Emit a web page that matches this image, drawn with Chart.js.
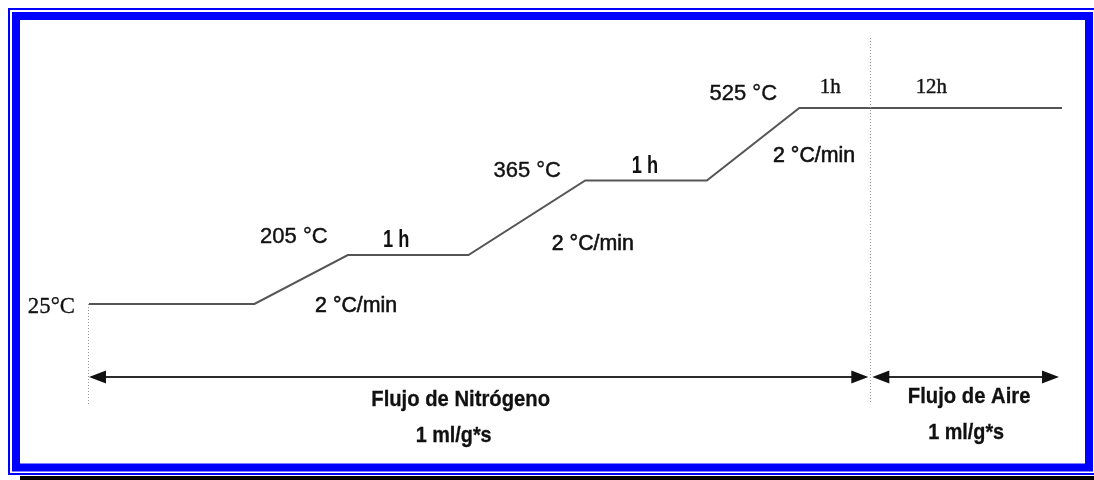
<!DOCTYPE html>
<html>
<head>
<meta charset="utf-8">
<script src="https://cdn.jsdelivr.net/npm/chart.js@4"></script>
<style>
  body { margin: 0; background: #fff; }
  #wrap { width: 1094px; height: 480px; }
</style>
</head>
<body>
<div id="wrap"><canvas id="perfil" width="1094" height="480"></canvas></div>
<script>
// perfil de calcinacion (esquema, unidades arbitrarias)
const tiempos = [0, 17, 26.6, 39, 51, 63.5, 73, 100];
const niveles = [0, 0, 25, 25, 63, 63, 100, 100];
const cambioGas = 80.3; // paso de nitrogeno a aire

const temperaturas = ['25°C', '205 °C', '365 °C', '525 °C'];
const rampa = '2 °C/min';
const mesetas = ['1 h', '1 h', '1h', '12h'];
const flujos = ['Flujo de Nitrógeno', 'Flujo de Aire'];
const caudal = '1 ml/g*s';

const ctx = document.getElementById('perfil');

function flecha(c, x1, x2, y) {
  c.beginPath();
  c.moveTo(x1 + 14, y);
  c.lineTo(x2 - 14, y);
  c.stroke();
  c.beginPath();
  c.moveTo(x1, y); c.lineTo(x1 + 17, y - 6.5); c.lineTo(x1 + 17, y + 6.5); c.closePath();
  c.moveTo(x2, y); c.lineTo(x2 - 17, y - 6.5); c.lineTo(x2 - 17, y + 6.5); c.closePath();
  c.fill();
}

// grueso: trazo extra para imitar el texto mas pesado del original
function texto(c, t, x, y, font, sx, grueso) {
  c.save();
  c.font = font;
  c.translate(x, y);
  c.scale(sx || 1, 1);
  c.fillText(t, 0, 0);
  if (grueso) {
    c.lineWidth = grueso;
    c.strokeStyle = c.fillStyle;
    c.strokeText(t, 0, 0);
  }
  c.restore();
}

const marco = {
  id: 'marco',
  beforeDraw(chart) {
    const c = chart.ctx;
    c.save();
    c.fillStyle = '#fff';
    c.fillRect(0, 0, 1094, 480);
    c.strokeStyle = '#0000ff';
    c.lineWidth = 2;
    c.strokeRect(9, 9, 1100, 465);
    c.lineWidth = 8;
    c.strokeRect(16, 16, 1073, 451.5);
    c.fillStyle = '#000';
    c.fillRect(20, 476, 1074, 4);
    c.restore();
  },
  afterDraw(chart) {
    const c = chart.ctx;
    const x = chart.scales.x, y = chart.scales.y;
    const px = v => x.getPixelForValue(v);
    const py = v => y.getPixelForValue(v);
    c.save();

    // lineas punteadas
    c.strokeStyle = '#9a9a9a';
    c.lineWidth = 1;
    c.setLineDash([1, 2]);
    c.beginPath();
    c.moveTo(Math.round(px(tiempos[0])) - 0.5, py(0));
    c.lineTo(Math.round(px(tiempos[0])) - 0.5, py(0) + 100);
    c.moveTo(Math.round(px(cambioGas)) + 0.5, py(100) - 70);
    c.lineTo(Math.round(px(cambioGas)) + 0.5, py(0) + 100);
    c.stroke();
    c.setLineDash([]);

    // flechas de flujo
    c.strokeStyle = '#2a2a2a';
    c.fillStyle = '#111';
    c.lineWidth = 2;
    const ya = py(0) + 73;
    flecha(c, px(tiempos[0]), px(cambioGas) - 2, ya);
    flecha(c, px(cambioGas) + 2, px(tiempos[7]) - 3, ya);

    c.fillStyle = '#111';
    c.textBaseline = 'alphabetic';
    const sans = '22px "Liberation Sans"';

    // temperaturas
    c.textAlign = 'right';
    texto(c, temperaturas[0], px(tiempos[0]) - 14, py(niveles[0]) + 9, '24px "Liberation Serif"', 0.95, 0.3);
    c.textAlign = 'center';
    texto(c, temperaturas[1], px(tiempos[2]) - 54, py(niveles[2]) - 12, sans, 1, 0.4);
    texto(c, temperaturas[2], px(tiempos[4]) - 58, py(niveles[4]) - 4, sans, 1, 0.4);
    texto(c, temperaturas[3], px(tiempos[6]) - 56, py(niveles[6]) - 8, sans, 1, 0.4);

    // rampas
    texto(c, rampa, (px(tiempos[1]) + px(tiempos[2])) / 2 + 55, py(niveles[1]) + 8, sans, 0.97, 0.6);
    texto(c, rampa, (px(tiempos[3]) + px(tiempos[4])) / 2 + 66, py(niveles[3]) - 5, sans, 0.97, 0.6);
    texto(c, rampa, (px(tiempos[5]) + px(tiempos[6])) / 2 + 61, py(niveles[5]) - 19, sans, 0.97, 0.6);

    // mesetas
    texto(c, mesetas[0], (px(tiempos[2]) + px(tiempos[3])) / 2 - 12, py(niveles[2]) - 8, 'bold 24px "Liberation Sans"', 0.76);
    texto(c, mesetas[1], (px(tiempos[4]) + px(tiempos[5])) / 2 - 1, py(niveles[4]) - 8, 'bold 24px "Liberation Sans"', 0.76);
    texto(c, mesetas[2], px(tiempos[6]) + 31, py(niveles[6]) - 15, '22px "Liberation Serif"', 0.95, 0.4);
    texto(c, mesetas[3], px(cambioGas) + 61, py(niveles[6]) - 15, '22px "Liberation Serif"', 0.95, 0.4);

    // flujos
    const xn = (px(tiempos[0]) + px(cambioGas)) / 2 - 21;
    const xa = (px(cambioGas) + px(tiempos[7])) / 2 + 3;
    const negrita = 'bold 22px "Liberation Sans"';
    texto(c, flujos[0], xn + 2, ya + 29, negrita, 0.92, 0.3);
    texto(c, caudal, xn - 5, ya + 65, negrita, 0.9, 0.3);
    texto(c, flujos[1], xa, ya + 26, negrita, 0.92, 0.3);
    texto(c, caudal, xa - 3, ya + 62, negrita, 0.9, 0.3);

    c.restore();
  }
};

new Chart(ctx, {
  type: 'line',
  data: {
    labels: tiempos,
    datasets: [{
      data: tiempos.map((t, i) => ({ x: t, y: niveles[i] })),
      borderColor: '#555555',
      borderWidth: 2,
      pointRadius: 0,
      tension: 0,
      clip: false
    }]
  },
  options: {
    responsive: false,
    animation: false,
    layout: { padding: { left: 89, right: 32, top: 108, bottom: 176 } },
    plugins: { legend: { display: false }, tooltip: { enabled: false } },
    scales: {
      x: { type: 'linear', min: 0, max: 100, display: false },
      y: { type: 'linear', min: 0, max: 100, display: false }
    }
  },
  plugins: [marco]
});
</script>
</body>
</html>
